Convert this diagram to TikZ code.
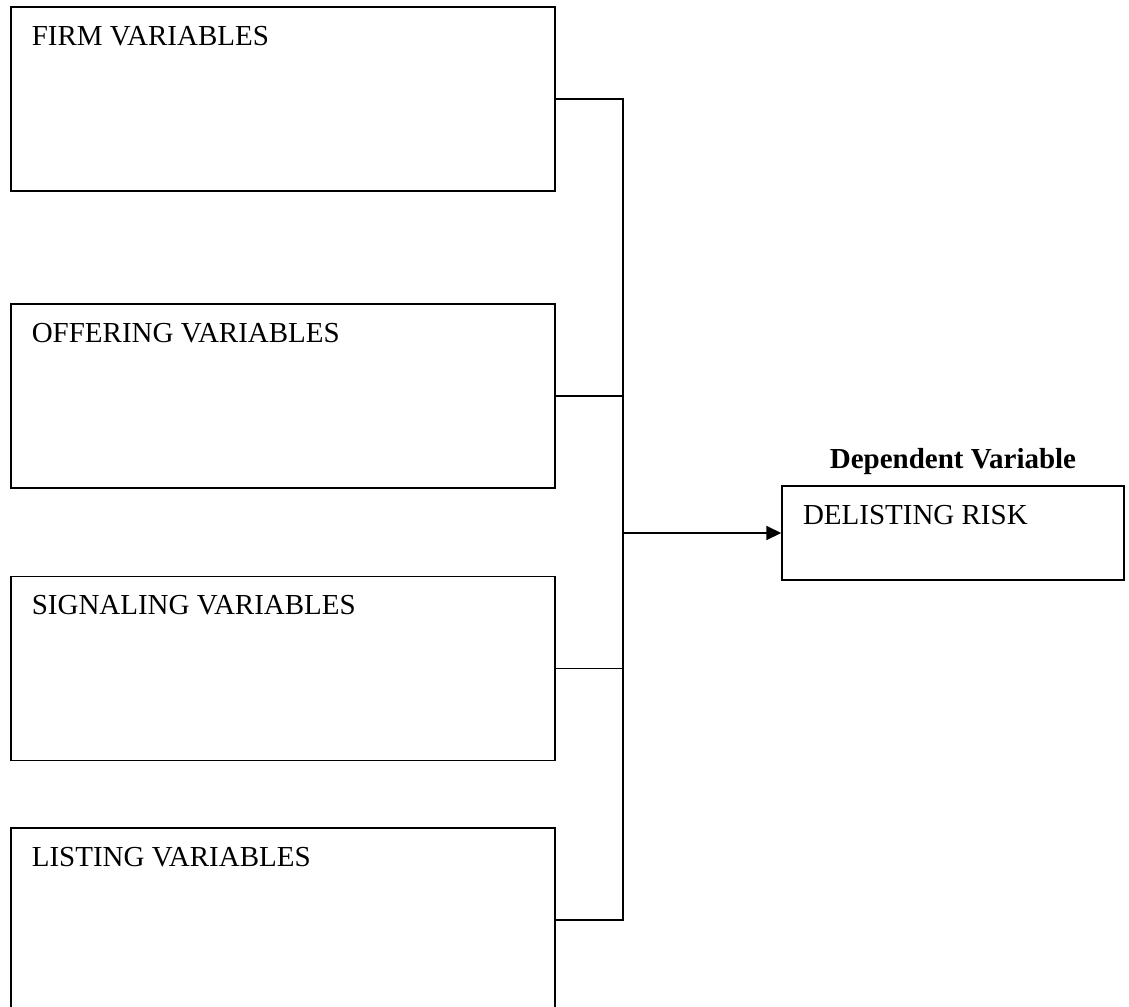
\documentclass[tikz,border=0pt]{standalone}
\usepackage{fontspec}
\setmainfont{Liberation Serif}
\usetikzlibrary{shapes,arrows.meta}
\tikzstyle{varbox} = [draw, rectangle, line width=0.9pt,
    minimum width=10.89cm, minimum height=3.68cm, inner sep=0pt]
\tikzstyle{riskbox} = [draw, rectangle, line width=0.9pt,
    minimum width=6.84cm, minimum height=1.88cm, inner sep=0pt]
\tikzstyle{varlabel} = [anchor=base west, inner sep=0pt,
    font=\fontsize{16.5}{20}\selectfont]

\begin{document}
\begin{tikzpicture}[x=0.02cm, y=-0.02cm, line width=0.9pt]
\useasboundingbox (0,0) rectangle (1129,1007);
\coordinate (spine) at (623,0);

\node[varbox, name=firm] at (283,99) {};
\node[varbox, name=offering] at (283,396) {};
\node[varbox, name=signaling] at (283,668.5) {};
\node[varbox, name=listing] at (283,920) {};
\node[riskbox, name=delist] at (953,533) {};

\node[varlabel, name=firmtext] at ([shift={(21,39)}]firm.north west) {FIRM VARIABLES};
\node[varlabel, name=offeringtext] at ([shift={(21,39)}]offering.north west) {OFFERING VARIABLES};
\node[varlabel, name=signalingtext] at ([shift={(21,39)}]signaling.north west) {SIGNALING VARIABLES};
\node[varlabel, name=listingtext] at ([shift={(21,39)}]listing.north west) {LISTING VARIABLES};
\node[varlabel, name=delisttext] at ([shift={(21,39)}]delist.north west) {DELISTING RISK};
\node[varlabel, anchor=base, name=dvtitle, font=\fontsize{16.5}{20}\selectfont\bfseries]
  at ([shift={(0,-17)}]delist.north) {Dependent Variable};

\draw (firm.east) -- (firm.east -| spine) |- (listing.east);
\draw (offering.east) -- (offering.east -| spine);
\draw (signaling.east) -- (signaling.east -| spine);
\draw[-{Triangle[length=8.5pt,width=8pt]}] (delist.west -| spine) -- (delist.west);

\ ;\end{tikzpicture}
\end{document}
